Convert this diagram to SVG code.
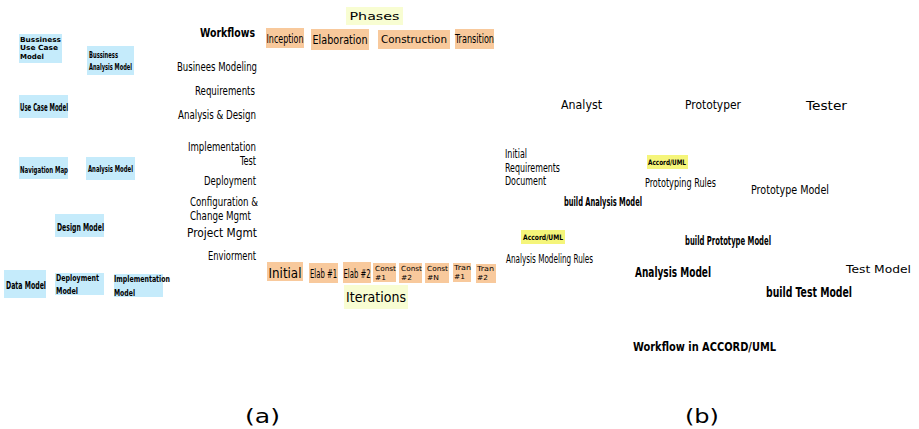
<svg xmlns="http://www.w3.org/2000/svg" width="919" height="429" viewBox="0 0 919 429">
<style>
text{font-family:"DejaVu Sans Condensed","DejaVu Sans","Liberation Sans",sans-serif;fill:#000}
.b{font-weight:bold}
.blue{fill:#c5ebfb}
.or{fill:#f8c99c}
.ly{fill:#f8fdd2}
.hy{fill:#f5f57a}
.wf{font-size:13px;text-anchor:end}
.reg{font-family:"DejaVu Sans","Liberation Sans",sans-serif}
.sm{font-size:7px}
</style>
<rect width="919" height="429" fill="#fff"/>
<g id="connectors"/>
<!-- left panel models -->
<g id="bussiness-use-case-model">
<rect class="blue" x="19" y="34" width="43" height="29"/>
<text class="b reg" font-size="7" x="20" y="42" textLength="41" lengthAdjust="spacingAndGlyphs">Bussiness</text>
<text class="b reg" font-size="7" x="20" y="50" textLength="38" lengthAdjust="spacingAndGlyphs">Use Case</text>
<text class="b reg" font-size="7" x="20" y="59" textLength="24" lengthAdjust="spacingAndGlyphs">Model</text>
</g>
<g id="bussiness-analysis-model">
<rect class="blue" x="87" y="46" width="47" height="29"/>
<text class="b" font-size="8.5" x="89" y="58" textLength="29" lengthAdjust="spacingAndGlyphs">Bussiness</text>
<text class="b" font-size="8.5" x="89" y="70" textLength="43" lengthAdjust="spacingAndGlyphs">Analysis Model</text>
</g>
<g id="use-case-model">
<rect class="blue" x="19" y="95" width="49" height="23"/>
<text class="b" font-size="10" x="20" y="111" textLength="48" lengthAdjust="spacingAndGlyphs">Use Case Model</text>
</g>
<g id="navigation-map">
<rect class="blue" x="19" y="157" width="49" height="22"/>
<text class="b" font-size="9" x="20" y="173" textLength="48" lengthAdjust="spacingAndGlyphs">Navigation Map</text>
</g>
<g id="analysis-model-left">
<rect class="blue" x="86" y="157" width="49" height="23"/>
<text class="b" font-size="9" x="88" y="172" textLength="45" lengthAdjust="spacingAndGlyphs">Analysis Model</text>
</g>
<g id="design-model">
<rect class="blue" x="55" y="214" width="49" height="23"/>
<text class="b" font-size="10" x="57" y="231" textLength="47" lengthAdjust="spacingAndGlyphs">Design Model</text>
</g>
<g id="data-model">
<rect class="blue" x="4" y="270" width="42" height="28"/>
<text class="b" font-size="10" x="6" y="289" textLength="40" lengthAdjust="spacingAndGlyphs">Data Model</text>
</g>
<g id="deployment-model">
<rect class="blue" x="55" y="273" width="49" height="22"/>
<text class="b" font-size="9" x="56" y="281" textLength="43" lengthAdjust="spacingAndGlyphs">Deployment</text>
<text class="b" font-size="9" x="56" y="294" textLength="22" lengthAdjust="spacingAndGlyphs">Model</text>
</g>
<g id="implementation-model">
<rect class="blue" x="114" y="274" width="49" height="23"/>
<text class="b" font-size="9" x="114" y="282" textLength="56" lengthAdjust="spacingAndGlyphs">Implementation</text>
<text class="b" font-size="9" x="114" y="296" textLength="21" lengthAdjust="spacingAndGlyphs">Model</text>
</g>
<!-- workflows -->
<g id="workflows">
<text class="b" font-size="13" x="255" y="37" text-anchor="end" textLength="55" lengthAdjust="spacingAndGlyphs">Workflows</text>
<text class="wf" x="257" y="71" textLength="80" lengthAdjust="spacingAndGlyphs">Businees Modeling</text>
<text class="wf" x="255" y="95" textLength="60" lengthAdjust="spacingAndGlyphs">Requirements</text>
<text class="wf" x="256" y="119" textLength="78" lengthAdjust="spacingAndGlyphs">Analysis &amp; Design</text>
<text class="wf" x="256" y="151" textLength="68" lengthAdjust="spacingAndGlyphs">Implementation</text>
<text class="wf" x="256" y="165" textLength="16" lengthAdjust="spacingAndGlyphs">Test</text>
<text class="wf" x="256" y="185" textLength="52" lengthAdjust="spacingAndGlyphs">Deployment</text>
<text class="wf" x="258" y="206" textLength="68" lengthAdjust="spacingAndGlyphs">Configuration &amp;</text>
<text class="wf" x="251" y="220" textLength="61" lengthAdjust="spacingAndGlyphs">Change Mgmt</text>
<text class="wf" x="257" y="237" textLength="70" lengthAdjust="spacingAndGlyphs">Project Mgmt</text>
<text class="wf" x="256" y="260" textLength="48" lengthAdjust="spacingAndGlyphs">Enviorment</text>
</g>
<!-- phases -->
<g id="phases">
<rect class="ly" x="346" y="7" width="57" height="18"/>
<text class="reg" font-size="11" x="374.5" y="20" text-anchor="middle" textLength="50" lengthAdjust="spacingAndGlyphs">Phases</text>
</g>
<g id="inception">
<rect class="or" x="266" y="28" width="38" height="20"/>
<text font-size="12" x="285" y="43" text-anchor="middle" textLength="37" lengthAdjust="spacingAndGlyphs">Inception</text>
</g>
<g id="elaboration">
<rect class="or" x="311" y="29" width="58" height="21"/>
<text font-size="12" x="340" y="44" text-anchor="middle" textLength="55" lengthAdjust="spacingAndGlyphs">Elaboration</text>
</g>
<g id="construction">
<rect class="or" x="378" y="30" width="72" height="19"/>
<text class="reg" font-size="11" x="414" y="43" text-anchor="middle" textLength="66" lengthAdjust="spacingAndGlyphs">Construction</text>
</g>
<g id="transition">
<rect class="or" x="455" y="29" width="39" height="20"/>
<text font-size="12" x="474.5" y="43" text-anchor="middle" textLength="39" lengthAdjust="spacingAndGlyphs">Transition</text>
</g>
<!-- iterations -->
<g id="initial">
<rect class="or" x="267" y="262" width="36" height="19"/>
<text font-size="14" x="285" y="278" text-anchor="middle" textLength="33" lengthAdjust="spacingAndGlyphs">Initial</text>
</g>
<g id="elab1">
<rect class="or" x="309" y="263" width="29" height="20"/>
<text font-size="12" x="323.5" y="278" text-anchor="middle" textLength="27" lengthAdjust="spacingAndGlyphs">Elab #1</text>
</g>
<g id="elab2">
<rect class="or" x="343" y="262" width="28" height="21"/>
<text font-size="12" x="357" y="278" text-anchor="middle" textLength="27" lengthAdjust="spacingAndGlyphs">Elab #2</text>
</g>
<g id="const1">
<rect class="or" x="373" y="263" width="23" height="19"/>
<text class="reg sm" x="375" y="271" textLength="21" lengthAdjust="spacingAndGlyphs">Const</text>
<text class="reg sm" x="375" y="280" textLength="11" lengthAdjust="spacingAndGlyphs">#1</text>
</g>
<g id="const2">
<rect class="or" x="399" y="263" width="23" height="20"/>
<text class="reg sm" x="401" y="271" textLength="21" lengthAdjust="spacingAndGlyphs">Const</text>
<text class="reg sm" x="401" y="280" textLength="11" lengthAdjust="spacingAndGlyphs">#2</text>
</g>
<g id="constN">
<rect class="or" x="425" y="263" width="24" height="20"/>
<text class="reg sm" x="427" y="271" textLength="21" lengthAdjust="spacingAndGlyphs">Const</text>
<text class="reg sm" x="427" y="280" textLength="12" lengthAdjust="spacingAndGlyphs">#N</text>
</g>
<g id="tran1">
<rect class="or" x="453" y="263" width="18" height="19"/>
<text class="reg sm" x="454" y="270" textLength="17" lengthAdjust="spacingAndGlyphs">Tran</text>
<text class="reg sm" x="454" y="279" textLength="11" lengthAdjust="spacingAndGlyphs">#1</text>
</g>
<g id="tran2">
<rect class="or" x="476" y="264" width="20" height="19"/>
<text class="reg sm" x="477" y="271" textLength="17" lengthAdjust="spacingAndGlyphs">Tran</text>
<text class="reg sm" x="477" y="280" textLength="11" lengthAdjust="spacingAndGlyphs">#2</text>
</g>
<g id="iterations">
<rect class="ly" x="344" y="285" width="64" height="24"/>
<text class="reg" font-size="14" x="376" y="302" text-anchor="middle" textLength="60" lengthAdjust="spacingAndGlyphs">Iterations</text>
</g>
<!-- right panel -->
<g id="analyst"><text class="reg" font-size="12" x="561" y="109" textLength="41" lengthAdjust="spacingAndGlyphs">Analyst</text></g>
<g id="prototyper"><text font-size="13" x="685" y="109" textLength="56" lengthAdjust="spacingAndGlyphs">Prototyper</text></g>
<g id="tester"><text class="reg" font-size="13" x="806" y="110" textLength="41" lengthAdjust="spacingAndGlyphs">Tester</text></g>
<g id="initial-requirements-document">
<text font-size="12" x="505" y="158" textLength="22" lengthAdjust="spacingAndGlyphs">Initial</text>
<text font-size="12" x="505" y="172" textLength="55" lengthAdjust="spacingAndGlyphs">Requirements</text>
<text font-size="12" x="505" y="185" textLength="41" lengthAdjust="spacingAndGlyphs">Document</text>
</g>
<g id="accord-uml-1">
<rect class="hy" x="647" y="155" width="41" height="14"/>
<text class="b" font-size="7.5" x="648" y="165" textLength="38" lengthAdjust="spacingAndGlyphs">Accord/UML</text>
</g>
<g id="prototyping-rules"><text font-size="12" x="645" y="187" textLength="71" lengthAdjust="spacingAndGlyphs">Prototyping Rules</text></g>
<g id="build-analysis-model"><text class="b" font-size="12" x="564" y="206" textLength="78" lengthAdjust="spacingAndGlyphs">build Analysis Model</text></g>
<g id="prototype-model"><text font-size="13" x="751" y="194" textLength="78" lengthAdjust="spacingAndGlyphs">Prototype Model</text></g>
<g id="accord-uml-2">
<rect class="hy" x="521" y="230" width="44" height="14"/>
<text class="b" font-size="7.5" x="523" y="240" textLength="40" lengthAdjust="spacingAndGlyphs">Accord/UML</text>
</g>
<g id="analysis-modeling-rules"><text font-size="12" x="506" y="263" textLength="87" lengthAdjust="spacingAndGlyphs">Analysis Modeling Rules</text></g>
<g id="build-prototype-model"><text class="b" font-size="12" x="685" y="245" textLength="86" lengthAdjust="spacingAndGlyphs">build Prototype Model</text></g>
<g id="analysis-model-right"><text class="b" font-size="14" x="635" y="277" textLength="76" lengthAdjust="spacingAndGlyphs">Analysis Model</text></g>
<g id="test-model"><text class="reg" font-size="11" x="846" y="273" textLength="65" lengthAdjust="spacingAndGlyphs">Test Model</text></g>
<g id="build-test-model"><text class="b" font-size="14" x="766" y="297" textLength="86" lengthAdjust="spacingAndGlyphs">build Test Model</text></g>
<g id="workflow-title"><text class="b" font-size="13" x="633" y="351" textLength="143" lengthAdjust="spacingAndGlyphs">Workflow in ACCORD/UML</text></g>
<g id="caption-a"><text class="reg" font-size="20" x="245" y="423" textLength="35" lengthAdjust="spacingAndGlyphs">(a)</text></g>
<g id="caption-b"><text class="reg" font-size="20" x="685" y="423" textLength="34" lengthAdjust="spacingAndGlyphs">(b)</text></g>
</svg>
